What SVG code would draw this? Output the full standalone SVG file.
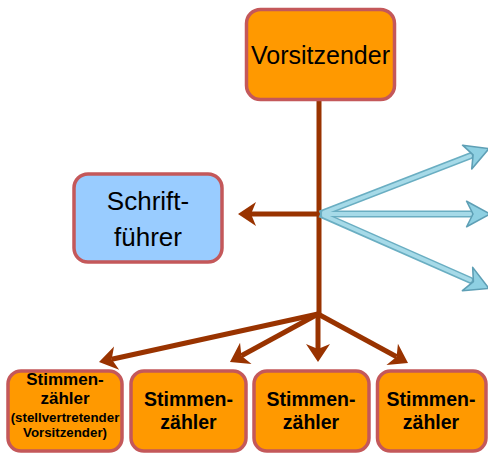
<svg xmlns="http://www.w3.org/2000/svg" width="488" height="454" viewBox="0 0 488 454">
<style>
.box{stroke:#C4585A;stroke-width:3.5}
.or{fill:#FF9900}
.bl{fill:#99CCFF}
.t{font-family:"Liberation Sans",Arial,sans-serif;fill:#000;text-anchor:middle}
.b{font-weight:bold}
.br{stroke:#993300;stroke-width:5;fill:none}
.bo{stroke:#6AAEC2;stroke-width:7;fill:none}
.bi{stroke:#A6DAE8;stroke-width:4;fill:none;stroke-linecap:round}
</style>
<defs>
<marker id="ah" markerUnits="userSpaceOnUse" markerWidth="30" markerHeight="30" viewBox="-2 -15 24 30" refX="5" refY="0" orient="auto">
<path d="M0,-12 L18,0 L0,12 L5,0 Z" fill="#993300"/>
</marker>
<marker id="bh" markerUnits="userSpaceOnUse" markerWidth="34" markerHeight="34" viewBox="-2 -16 28 32" refX="6" refY="0" orient="auto">
<path d="M0,-12 L22,0 L0,12 L6,0 Z" fill="#8ED0E2" stroke="#5E9FB5" stroke-width="1.5" stroke-linejoin="round"/>
</marker>
</defs>
<g id="connectors">
<line class="br" x1="319" y1="100" x2="319" y2="316"/>
<line class="br" x1="319" y1="214" x2="251" y2="214" marker-end="url(#ah)"/>
<line class="br" x1="318" y1="314" x2="318" y2="349" marker-end="url(#ah)"/>
<line class="br" x1="318" y1="314" x2="396.6" y2="356.8" marker-end="url(#ah)"/>
<line class="br" x1="318" y1="314" x2="111.7" y2="359.2" marker-end="url(#ah)"/>
<line class="br" x1="318" y1="314" x2="241.4" y2="355.8" marker-end="url(#ah)"/>
<line class="bo" x1="320" y1="214" x2="473.1" y2="154.8" marker-end="url(#bh)"/>
<line class="bo" x1="320" y1="214" x2="473" y2="214" marker-end="url(#bh)"/>
<line class="bo" x1="320" y1="214" x2="473.4" y2="281.6" marker-end="url(#bh)"/>
<line class="bi" x1="324" y1="212.5" x2="470" y2="156"/>
<line class="bi" x1="324" y1="214" x2="470" y2="214"/>
<line class="bi" x1="324" y1="215.5" x2="470" y2="280"/>
</g>
<g id="vorsitzender">
<rect class="box or" x="246.5" y="9.5" width="148" height="90" rx="14"/>
<text class="t" x="320.5" y="64" font-size="25">Vorsitzender</text>
</g>
<g id="schriftfuehrer">
<rect class="box bl" x="74" y="174" width="148" height="88" rx="14"/>
<text class="t" x="148" y="210" font-size="26">Schrift-</text>
<text class="t" x="148" y="246" font-size="26">führer</text>
</g>
<g id="stimmenzaehler1">
<rect class="box or" x="8" y="371" width="114" height="80" rx="13"/>
<text class="t b" x="65" y="385" font-size="17">Stimmen-</text>
<text class="t b" x="65" y="404" font-size="17">zähler</text>
<text class="t b" x="65" y="421.5" font-size="13.3">(stellvertretender</text>
<text class="t b" x="65" y="437" font-size="13.3">Vorsitzender)</text>
</g>
<g id="stimmenzaehler2">
<rect class="box or" x="131" y="371" width="115" height="80" rx="13"/>
<text class="t b" x="188.5" y="406" font-size="19.5">Stimmen-</text>
<text class="t b" x="188.5" y="429" font-size="19.5">zähler</text>
</g>
<g id="stimmenzaehler3">
<rect class="box or" x="254" y="371" width="115" height="80" rx="13"/>
<text class="t b" x="311" y="406" font-size="19.5">Stimmen-</text>
<text class="t b" x="311" y="429" font-size="19.5">zähler</text>
</g>
<g id="stimmenzaehler4">
<rect class="box or" x="377.5" y="371" width="108.5" height="80" rx="13"/>
<text class="t b" x="431" y="406" font-size="19.5">Stimmen-</text>
<text class="t b" x="431" y="429" font-size="19.5">zähler</text>
</g>
</svg>
